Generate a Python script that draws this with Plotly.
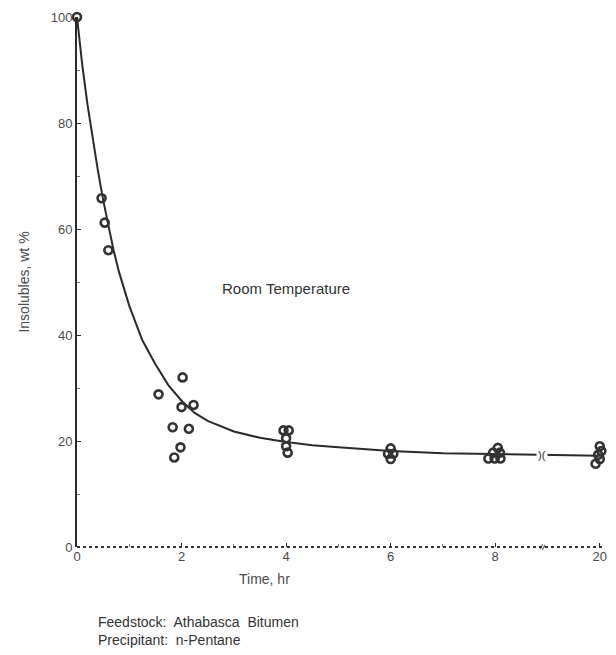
import plotly.graph_objects as go

# Measured insolubles (wt %) vs time (hr); x position 10 is the "20 hr" point after the axis break
time_pts = [0.0, 0.47, 0.53, 0.6,
            1.56, 2.02, 2.0, 2.23, 1.83, 2.14, 1.98, 1.86,
            3.95, 4.05, 4.0, 4.0, 4.03,
            6.0, 5.95, 6.05, 6.0,
            8.05, 7.96, 8.09, 7.87, 7.99, 8.1,
            10.0, 10.03, 9.97, 10.0, 9.92]
insol_pts = [100.0, 65.8, 61.2, 56.0,
             28.8, 32.0, 26.4, 26.8, 22.6, 22.3, 18.8, 16.9,
             22.0, 22.0, 20.5, 19.0, 17.8,
             18.6, 17.6, 17.6, 16.6,
             18.7, 17.8, 17.8, 16.7, 16.7, 16.7,
             19.0, 18.1, 17.4, 16.6, 15.7]

# Fitted curve
curve_t = [0.0, 0.1, 0.2, 0.3, 0.4, 0.5, 0.6, 0.7, 0.8, 1.0, 1.25, 1.5, 1.75,
           2.0, 2.25, 2.5, 3.0, 3.5, 4.0, 4.5, 5.0, 6.0, 7.0, 8.0, 9.0, 10.0]
curve_y = [100.0, 91.0, 83.5, 77.0, 71.0, 65.5, 60.5, 56.0, 52.0, 45.5, 39.0, 34.5, 30.5,
           27.6, 25.3, 23.8, 21.8, 20.6, 19.8, 19.2, 18.8, 18.1, 17.7, 17.5, 17.3, 17.2]

x_tick_vals = [0, 2, 4, 6, 8, 10]
x_tick_text = ["0", "2", "4", "6", "8", "20"]
y_tick_vals = [0, 20, 40, 60, 80, 100]

ink = "#2a2a2a"
txt = "#4a4a4a"
font_family = "Liberation Sans, Arial, sans-serif"

# plot area in pixels: left 77, right 607, top 17, bottom 547
PW, PH = 530, 530

fig = go.Figure()
fig.add_trace(go.Scatter(x=curve_t, y=curve_y, mode="lines",
                         line=dict(color=ink, width=2), hoverinfo="skip",
                         showlegend=False, cliponaxis=False))
fig.add_trace(go.Scatter(x=time_pts, y=insol_pts, mode="markers",
                         marker=dict(symbol="circle-open", size=8, color="#333333",
                                     line=dict(color="#333333", width=2.6)),
                         showlegend=False, cliponaxis=False))

fig.update_layout(
    width=616, height=655,
    margin=dict(l=77, r=9, t=17, b=108),
    paper_bgcolor="white", plot_bgcolor="white",
    font=dict(family=font_family, color=txt, size=12),
    xaxis=dict(range=[0, 10.1], tickvals=x_tick_vals, ticktext=x_tick_text,
               ticks="inside", ticklen=4, tickcolor=ink, tickwidth=1,
               minor=dict(tickvals=[1, 3, 5, 7], ticks="inside", ticklen=3, tickcolor="#777"),
               showline=False, showgrid=False, zeroline=False,
               tickfont=dict(size=13, color=txt)),
    yaxis=dict(range=[0, 100], tickvals=y_tick_vals,
               ticks="inside", ticklen=4, tickcolor=ink, tickwidth=1,
               minor=dict(tickvals=[10, 30, 50, 70, 90], ticks="inside", ticklen=3, tickcolor="#777"),
               showline=True, linecolor=ink, linewidth=2,
               showgrid=False, zeroline=False,
               tickfont=dict(size=13, color=txt),
               title=dict(text="Insolubles, wt %", font=dict(size=14, color=txt), standoff=18)),
    shapes=[dict(type="line", xref="paper", yref="paper", x0=0, x1=1.0, y0=0, y1=0,
                 line=dict(color="#333333", width=2, dash="dot"))],
    annotations=[
        dict(text="Room Temperature", x=(287 - 77) / PW, y=(547 - 288) / PH,
             xref="paper", yref="paper", showarrow=False,
             font=dict(size=15, color="#333333")),
        dict(text="Time, hr", x=(265 - 77) / PW, y=(547 - 579) / PH,
             xref="paper", yref="paper", showarrow=False,
             xanchor="center", yanchor="middle",
             font=dict(size=14, color=txt)),
        dict(text=")(", x=8.9, y=17.3, xref="x", yref="y", showarrow=False,
             bgcolor="white", font=dict(size=11, color=ink)),
        dict(text="≈", x=8.9, y=0, xref="x", yref="y", showarrow=False,
             font=dict(size=12, color=ink), textangle=-70),
        dict(text="Feedstock:  Athabasca  Bitumen<br>Precipitant:  n-Pentane",
             x=(96 - 77) / PW, y=(547 - 650) / PH, xref="paper", yref="paper",
             xanchor="left", yanchor="bottom",
             align="left", showarrow=False, font=dict(size=14, color="#333333")),
    ],
)

fig.write_html("out.html")
